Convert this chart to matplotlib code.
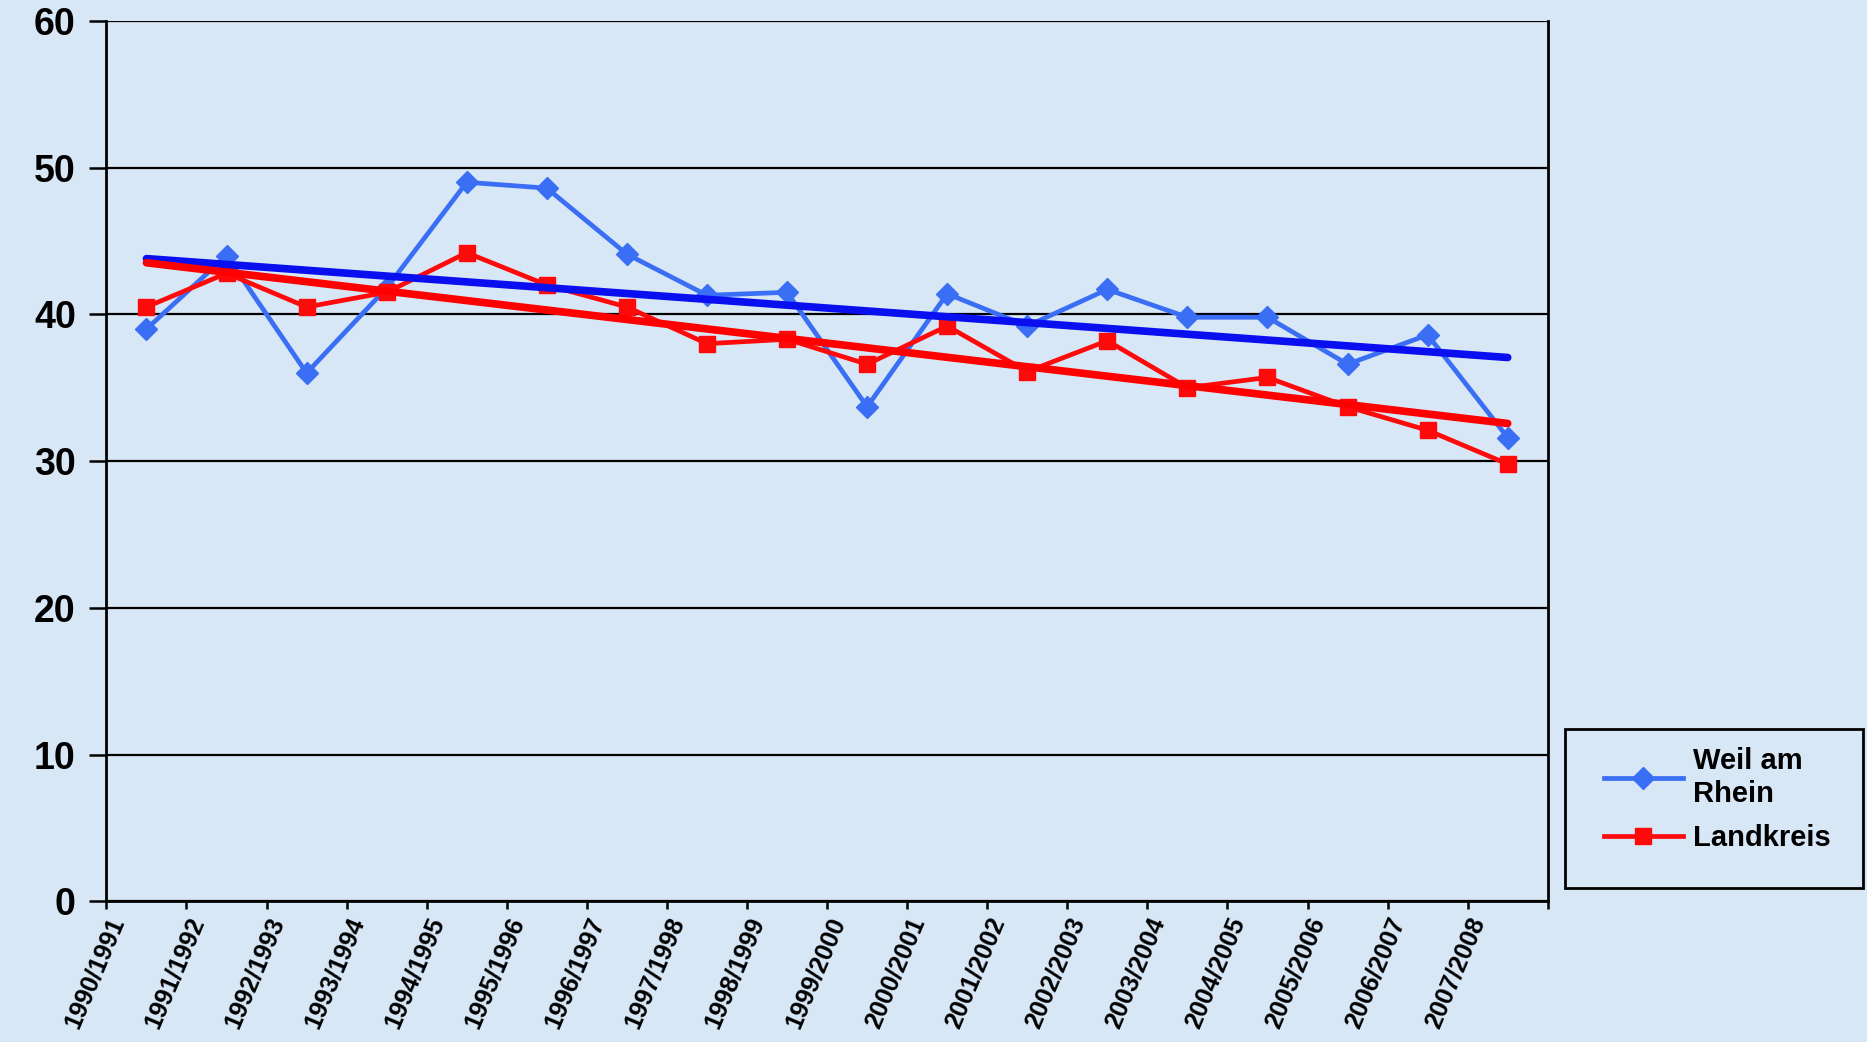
import numpy as np
import matplotlib.pyplot as plt
from matplotlib.patches import Rectangle

seasons = ['1990/1991', '1991/1992', '1992/1993', '1993/1994', '1994/1995', '1995/1996',
           '1996/1997', '1997/1998', '1998/1999', '1999/2000', '2000/2001', '2001/2002',
           '2002/2003', '2003/2004', '2004/2005', '2005/2006', '2006/2007', '2007/2008']
weil = [39.0, 44.0, 36.0, 41.8, 49.0, 48.6, 44.1, 41.3, 41.5, 33.7, 41.4, 39.2,
        41.7, 39.8, 39.8, 36.6, 38.6, 31.6]
landkreis = [40.5, 42.8, 40.5, 41.5, 44.2, 42.0, 40.5, 38.0, 38.3, 36.6, 39.2, 36.1,
             38.2, 35.0, 35.7, 33.7, 32.1, 29.8]

bg = '#d8e7f6'
plt.rcParams['font.family'] = ['Liberation Sans', 'DejaVu Sans']
plt.rcParams['font.weight'] = 'bold'

fig = plt.figure(figsize=(18.67, 10.42), dpi=100, facecolor=bg)
ax = fig.add_axes([0.057, 0.135, 0.772, 0.845], facecolor=bg)

x = np.arange(len(seasons)) + 0.5
ax.plot(x, weil, color='#3a6ef5', lw=3.4, marker='D', ms=11, label='Weil am\nRhein', zorder=3)
ax.plot(x, landkreis, color='#ff0a0a', lw=3.4, marker='s', ms=11, label='Landkreis', zorder=3)

# linear trend lines
for vals, col in [(weil, '#0a0ff0'), (landkreis, '#ff0000')]:
    k, d = np.polyfit(x, vals, 1)
    ax.plot(x, k * x + d, color=col, lw=5.5, solid_capstyle='round', zorder=4)

ax.set_xlim(0, len(seasons))
ax.set_ylim(0, 60)
ax.set_yticks(range(0, 61, 10))
ax.yaxis.grid(True, color='black', lw=1.6)
ax.set_axisbelow(True)
ax.spines['top'].set_visible(False)
for s in ['left', 'bottom', 'right']:
    ax.spines[s].set_linewidth(2)
    ax.spines[s].set_color('black')

ax.set_xticks(np.arange(len(seasons) + 1))
ax.set_xticklabels(seasons + [''], rotation=67, ha='right', va='top',
                   rotation_mode='anchor', fontsize=18,
                   family=['Liberation Sans Narrow', 'Liberation Sans'])
ax.tick_params(axis='x', length=6, width=1.8, pad=3)
ax.tick_params(axis='y', length=12, width=1.8, pad=10, labelsize=27)

# legend box
fig.add_artist(Rectangle((0.838, 0.148), 0.16, 0.152, transform=fig.transFigure,
                         fill=False, ec='black', lw=2))
fig.legend(loc='upper left', bbox_to_anchor=(0.845, 0.308), frameon=False,
           prop={'size': 21, 'weight': 'bold'}, handlelength=2.7, labelspacing=0.55,
           handletextpad=0.35)

fig.savefig('out.png', dpi=100, facecolor=bg)
